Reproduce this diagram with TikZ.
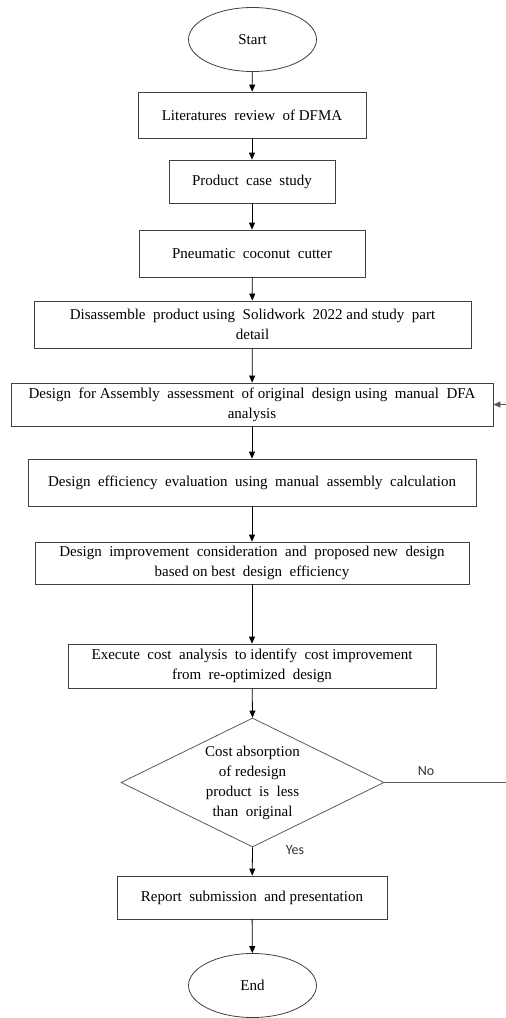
\documentclass[tikz,border=0pt]{standalone}
\usepackage{fontspec}
\setmainfont{Liberation Serif}
\newfontfamily\lblfont{Carlito}
\usetikzlibrary{shapes.geometric,arrows.meta}
\begin{document}
\begin{tikzpicture}[x=1pt,y=-1pt,
  every node/.style={font=\fontsize{15}{20}\selectfont, text=black},
  box/.style={draw=black!75, line width=0.8pt, rectangle, inner sep=0pt, align=center},
  term/.style={draw=black!75, line width=0.8pt, ellipse, inner sep=0pt, minimum width=128pt, minimum height=64pt},
  conn/.style={draw=black, line width=0.8pt, -{Triangle[length=7pt,width=6pt]}},
  lbl/.style={font=\lblfont\fontsize{14}{16}\selectfont, text=black!80}
]
\useasboundingbox (0,0) rectangle (506,1018);

\node[term] (start) at (252.5,39.5) {Start};
\node[box, minimum width=228pt, minimum height=46pt] (b1) at (252,115) {Literatures\ \ review\ \ of DFMA};
\node[box, minimum width=166pt, minimum height=43pt] (b2) at (252,181.5) {Product\ \ case\ \ study};
\node[box, minimum width=226pt, minimum height=47pt] (b3) at (252,253.5) {Pneumatic\ \ coconut\ \ cutter};
\node[box, minimum width=437pt, minimum height=47pt] (b4) at (252.5,324.5) {Disassemble\ \ product using\ \ Solidwork\ \ 2022 and study\ \ part\\detail};
\node[box, minimum width=482pt, minimum height=43pt] (b5) at (252,404.5) {Design\ \ for Assembly\ \ assessment\ \ of original\ \ design using\ \ manual\ \ DFA\\analysis};
\node[box, minimum width=448pt, minimum height=47pt] (b6) at (252,482.5) {Design\ \ efficiency\ \ evaluation\ \ using\ \ manual\ \ assembly\ \ calculation};
\node[box, minimum width=434pt, minimum height=42pt] (b7) at (252,563) {Design\ \ improvement\ \ consideration\ \ and\ \ proposed new\ \ design\\based on best\ \ design\ \ efficiency};
\node[box, minimum width=368pt, minimum height=44pt] (b8) at (252,666) {Execute\ \ cost\ \ analysis\ \ to identify\ \ cost improvement\\from\ \ re-optimized\ \ design};
\node[diamond, draw=black!65, line width=0.8pt, inner sep=0pt, minimum width=263pt, minimum height=129pt] (dec) at (252.5,782.5) {};
\node[align=center, inner sep=0pt] (dtext) at (dec.center) {Cost absorption\\of redesign\\product\ \ is\ \ less\\than\ \ original};
\node[box, minimum width=270pt, minimum height=43pt] (b9) at (252,897.5) {Report\ \ submission\ \ and presentation};
\node[term] (end) at (252.5,985.5) {End};

\coordinate (noend) at (508,782.5);
\coordinate (backin) at (508,404.5);

\draw[conn] (start) -- (b1);
\draw[conn] (b1) -- (b2);
\draw[conn] (b2) -- (b3);
\draw[conn] (b3) -- (b4);
\draw[conn] (b4) -- (b5);
\draw[conn] (b5) -- (b6);
\draw[conn] (b6) -- (b7);
\draw[conn] (b7) -- (b8);
\draw[conn] (b8) -- (dec.north);
\draw[conn] (dec.south) -- (b9);
\draw[conn] (b9) -- (end);
\draw[conn, draw=black!65] (dec.east) -- (noend) -- (backin) -- (b5.east);

\node[lbl] (no) at (426,771) {No};
\node[lbl] (yes) at (295,850) {Yes};
\end{tikzpicture}
\end{document}
